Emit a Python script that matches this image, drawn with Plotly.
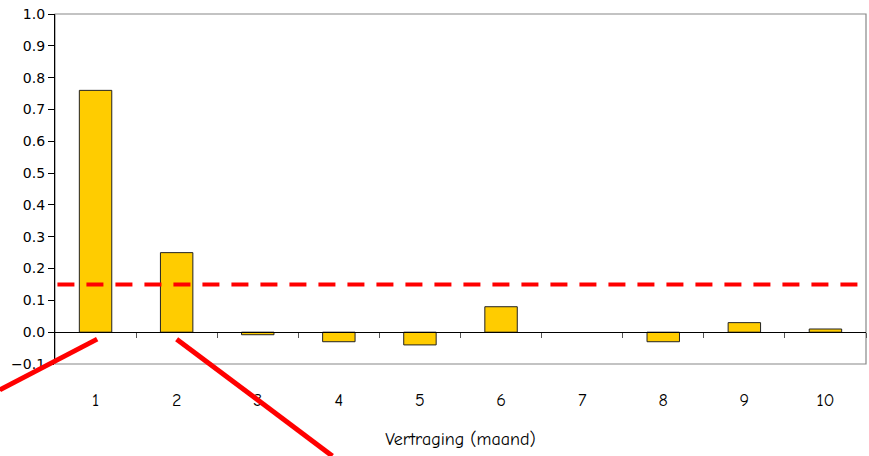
import plotly.graph_objects as go

lags = [1, 2, 3, 4, 5, 6, 7, 8, 9, 10]
autocorr = [0.76, 0.25, -0.008, -0.03, -0.04, 0.08, None, -0.03, 0.03, 0.01]
threshold = 0.15
y_ticks = [-0.1, 0.0, 0.1, 0.2, 0.3, 0.4, 0.5, 0.6, 0.7, 0.8, 0.9, 1.0]
x_title = "Vertraging (maand)"

# decorative pointer lines (paper coordinates)
pointer_lines = [
    (-0.068, -0.074, 0.052, 0.071),
    (0.150, 0.071, 0.342, -0.263),
]

fig = go.Figure()
fig.add_trace(go.Bar(
    x=lags, y=autocorr, width=0.4,
    marker=dict(color="#FFCC00", line=dict(color="#222222", width=1)),
    showlegend=False,
))
fig.add_trace(go.Scatter(x=[lags[0]], y=[0], xaxis="x2", mode="markers",
                         marker=dict(opacity=0), showlegend=False, hoverinfo="skip"))

comic = "Comic Sans MS, Comic Neue, DejaVu Sans, sans-serif"

fig.update_layout(
    width=869, height=456,
    margin=dict(l=55, r=3, t=14, b=92, autoexpand=False),
    paper_bgcolor="white", plot_bgcolor="white",
    xaxis=dict(
        range=[0.5, 10.5], tickvals=lags, ticktext=[str(v) for v in lags],
        showgrid=False, zeroline=False, showline=False, ticks="",
        ticklabelstandoff=23, automargin=False,
        tickfont=dict(family=comic, size=18, color="black"),
        title=dict(text=x_title, font=dict(family=comic, size=18, color="black"), standoff=22),
    ),
    xaxis2=dict(
        overlaying="x", anchor="free", position=0.1 / 1.1,
        range=[0.5, 10.5], tickvals=[1.5, 2.5, 3.5, 4.5, 5.5, 6.5, 7.5, 8.5, 9.5, 10.5],
        showticklabels=False, ticks="outside", ticklen=5, tickcolor="#555555",
        showline=True, linecolor="black", linewidth=1.2, showgrid=False, zeroline=False,
        automargin=False,
    ),
    yaxis=dict(
        range=[-0.1, 1.0], tickvals=y_ticks, tickformat=".1f",
        showgrid=False, zeroline=False, showline=True, linecolor="black", linewidth=1.2,
        ticks="outside", ticklen=6, tickcolor="black", automargin=False,
        tickfont=dict(family="DejaVu Sans, Verdana, sans-serif", size=14, color="black"),
    ),
    bargap=0.6,
)

fig.add_shape(type="rect", xref="paper", yref="paper", x0=0, x1=1, y0=0, y1=1,
              line=dict(color="#888888", width=1.2), layer="below")
fig.add_shape(type="line", xref="paper", yref="y", x0=0.003, x1=0.997, y0=threshold, y1=threshold,
              line=dict(color="#FF0000", width=4, dash="17px,12px"))
for (x0, y0, x1, y1) in pointer_lines:
    fig.add_shape(type="line", xref="paper", yref="paper", x0=x0, y0=y0, x1=x1, y1=y1,
                  line=dict(color="#FF0000", width=5))

fig.write_html("out.html", config={"displayModeBar": False},
               post_script="document.body.style.margin='0';document.body.style.overflow='hidden';")
